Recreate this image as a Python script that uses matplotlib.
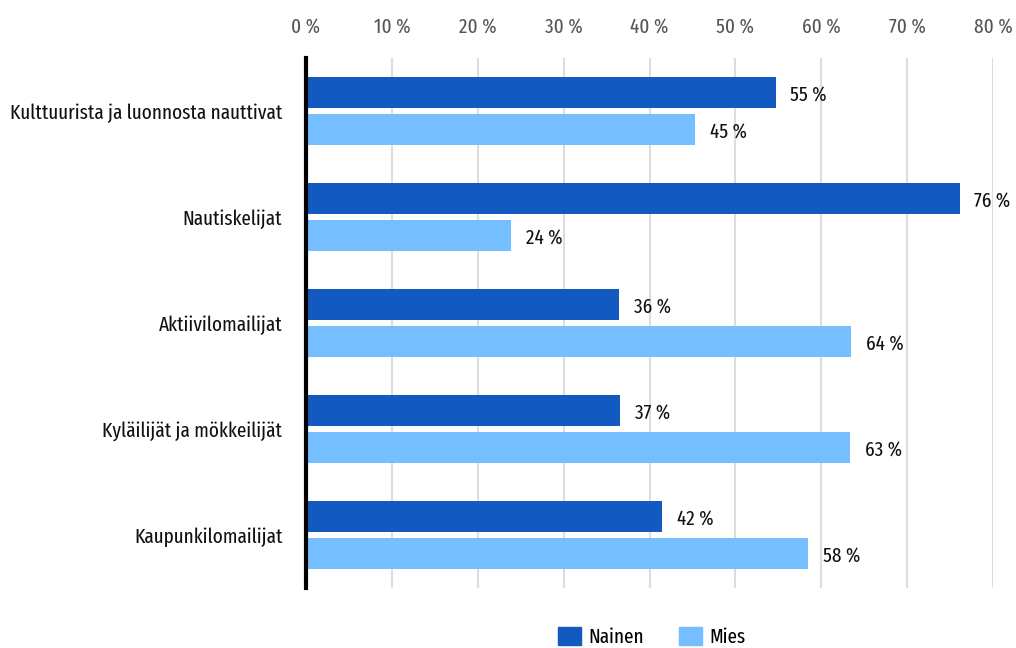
import matplotlib
matplotlib.use("Agg")
import matplotlib.pyplot as plt
import numpy as np
from matplotlib.patches import Patch

categories = ["Kulttuurista ja luonnosta nauttivat", "Nautiskelijat", "Aktiivilomailijat",
              "Kyläilijät ja mökkeilijät", "Kaupunkilomailijat"]
# bar lengths; labels as printed
nainen = [54.7, 76.1, 36.5, 36.6, 41.5]
mies = [45.3, 23.9, 63.5, 63.4, 58.5]
nainen_labels = ["55 %", "76 %", "36 %", "37 %", "42 %"]
mies_labels = ["45 %", "24 %", "64 %", "63 %", "58 %"]
series_names = ["Nainen", "Mies"]
xticks = [0, 10, 20, 30, 40, 50, 60, 70, 80]

plt.rcParams['font.family'] = ['Fira Sans Extra Condensed', 'Fira Sans Condensed', 'Barlow Semi Condensed', 'DejaVu Sans']

c_dark = "#125ABF"
c_light = "#75BEFF"

fig = plt.figure(figsize=(10.16, 6.48), dpi=100)
ax = fig.add_axes([306/1016, 1-588/648, (993-306)/1016, (588-58)/648])

y = np.arange(len(categories))
h = 0.30
ax.barh(y - 0.175, nainen, height=h, color=c_dark, zorder=3)
ax.barh(y + 0.175, mies, height=h, color=c_light, zorder=3)

fs = 15
for yi, v, lab in zip(y, nainen, nainen_labels):
    ax.text(v + 1.7, yi - 0.155, lab, va="center", ha="left", fontsize=fs, color="#111")
for yi, v, lab in zip(y, mies, mies_labels):
    ax.text(v + 1.7, yi + 0.195, lab, va="center", ha="left", fontsize=fs, color="#111")

ax.set_ylim(len(categories) - 0.5, -0.5)
ax.set_xlim(0, 80)
ax.set_xticks(xticks)
ax.set_xticklabels([f"{t} %" for t in xticks], fontsize=fs, color="#555")
ax.xaxis.tick_top()
ax.tick_params(axis='x', length=0, pad=15)
ax.set_yticks(y)
ax.set_yticklabels(categories, fontsize=fs, color="#111")
ax.tick_params(axis='y', length=0, pad=17)
ax.grid(axis='x', color="#dddddd", linewidth=1.5, zorder=0)
for s in ["top", "right", "bottom"]:
    ax.spines[s].set_visible(False)
ax.spines["left"].set_linewidth(3)
ax.spines["left"].set_color("#000")
ax.spines["left"].set_zorder(4)

handles = [Patch(color=c_dark), Patch(color=c_light)]
fig.legend(handles, series_names, loc="center", bbox_to_anchor=(652/1016, 1-637/648), ncol=2,
           frameon=False, fontsize=fs, handlelength=1.1, handleheight=1.0, columnspacing=1.7,
           handletextpad=0.35)

fig.savefig("out.png", dpi=100)
